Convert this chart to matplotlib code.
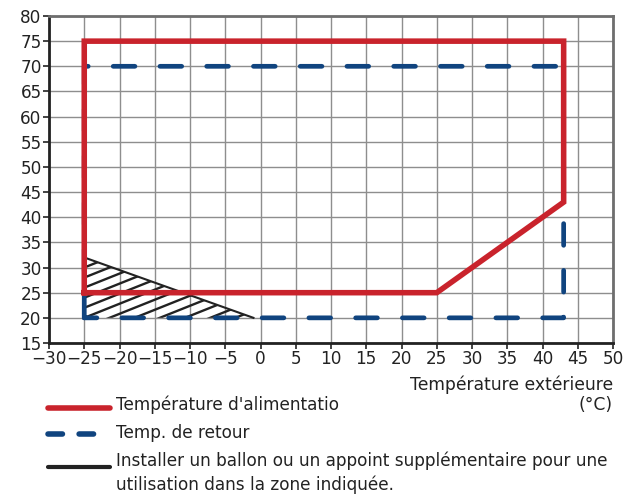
import matplotlib

matplotlib.use("Agg")
import matplotlib.pyplot as plt
import numpy as np
from matplotlib.lines import Line2D
from matplotlib.patches import Polygon

plt.rcParams["font.family"] = ["DejaVu Sans"]

# Températures de départ (rouge) : contour du domaine de fonctionnement
supply_x = [-25, -25, 43, 43, 25, -25]
supply_y = [25, 75, 75, 43, 25, 25]

# Températures de retour (bleu pointillé)
return_x = [-25, -25, 43, 43, -25]
return_y = [20, 70, 70, 20, 20]

# Zone où un appoint est nécessaire (hachurée)
zone_x = [-25, -1]
zone_top = [32, 20]
zone_floor = 20

x_ticks = list(range(-30, 51, 5))
y_ticks = list(range(15, 81, 5))

RED = "#c9232c"
BLUE = "#10447f"
INK = "#222222"

fig = plt.figure(figsize=(6.27, 4.98), dpi=100)
ax = fig.add_axes([49 / 627, 1 - 343 / 498, 564 / 627, 327 / 498])

# hachures obliques, découpées sur le triangle
tri = Polygon([(zone_x[0], zone_floor), (zone_x[0], zone_top[0]), (zone_x[1], zone_top[1])],
              closed=True, facecolor="none", edgecolor="none", transform=ax.transData)
ax.add_patch(tri)
hatch_slope = 0.56
for off in np.arange(-20, 14, 2.0):
    hx = np.array([zone_x[0], zone_x[1]])
    hl, = ax.plot(hx, zone_floor + off + hatch_slope * (hx - zone_x[0]), color=INK,
                  linewidth=1.7, solid_capstyle="butt", zorder=2)
    hl.set_clip_path(tri)
ax.plot(zone_x, zone_top, color=INK, linewidth=1.5, zorder=3)

ax.plot(return_x, return_y, color=BLUE, linewidth=3.4, linestyle=(0, (4.6, 5.3)),
        dash_capstyle="round", snap=False, zorder=4)
ax.plot(supply_x, supply_y, color=RED, linewidth=4.0, solid_joinstyle="miter",
        snap=False, zorder=5)

ax.set_xlim(-30, 50)
ax.set_ylim(15, 80)
ax.set_xticks(x_ticks)
ax.set_yticks(y_ticks)
ax.tick_params(labelsize=12.2, length=4.3, width=1.2, color=INK, pad=1, labelcolor=INK)
ax.grid(True, color="#8e8e8e", linewidth=1)
ax.set_axisbelow(True)

for side in ("left", "bottom"):
    ax.spines[side].set_color(INK)
    ax.spines[side].set_linewidth(2)
for side in ("top", "right"):
    ax.spines[side].set_color("#6e6e6e")
    ax.spines[side].set_linewidth(2)

fig.text(613 / 627, 1 - 385 / 498, "Température extérieure", ha="right", va="center",
         fontsize=12.3, color=INK)
fig.text(613 / 627, 1 - 405 / 498, "(°C)", ha="right", va="center",
         fontsize=12.3, color=INK)

# Légende faite à la main
legend_lines = [
    (408, dict(color=RED, linewidth=4)),
    (434, dict(color=BLUE, linewidth=4, linestyle=(0, (2.6, 3.0)), dash_capstyle="round")),
    (467, dict(color=INK, linewidth=3)),
]
for y_line, style in legend_lines:
    fig.add_artist(Line2D([48 / 627, 110 / 627], [1 - y_line / 498] * 2, transform=fig.transFigure,
                          solid_capstyle="round", **style))

legend_texts = [
    (405, "Température d'alimentatio"),
    (433, "Temp. de retour"),
    (461, "Installer un ballon ou un appoint supplémentaire pour une"),
    (485, "utilisation dans la zone indiquée."),
]
for y_text, label in legend_texts:
    fig.text(116 / 627, 1 - y_text / 498, label, ha="left", va="center", fontsize=12.2, color=INK)

fig.savefig("out.png", dpi=100)
